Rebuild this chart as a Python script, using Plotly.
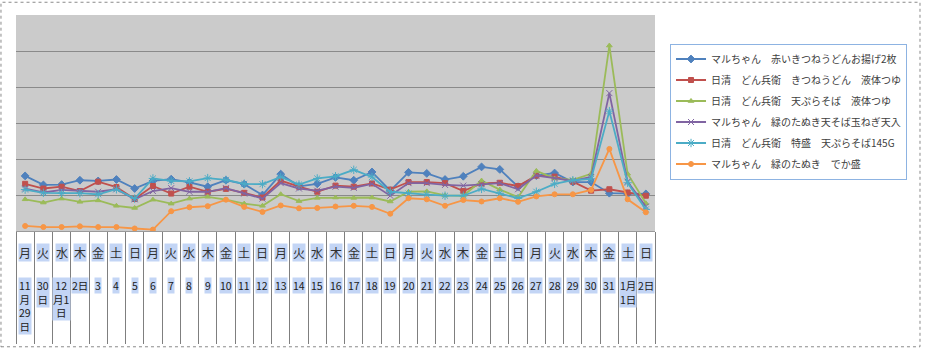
import plotly.graph_objects as go

categories = ["11/29", "11/30"] + [f"12/{d}" for d in range(1, 32)] + ["1/1", "1/2"]
weekdays = ["月", "火", "水", "木", "金", "土", "日"] * 5
date_labels = (["11<br>月<br>29<br>日", "30<br>日", "12<br>月1<br>日", "2日"]
               + [str(d) for d in range(3, 32)] + ["1月<br>1日", "2日"])

names = [
    "マルちゃん　赤いきつねうどんお揚げ2枚",
    "日清　どん兵衛　きつねうどん　液体つゆ",
    "日清　どん兵衛　天ぷらそば　液体つゆ",
    "マルちゃん　緑のたぬき天そば玉ねぎ天入",
    "日清　どん兵衛　特盛　天ぷらそば145G",
    "マルちゃん　緑のたぬき　でか盛",
]

s_akai = [1.53, 1.28, 1.29, 1.41, 1.39, 1.43, 1.18, 1.39, 1.44, 1.35, 1.23, 1.41, 1.30, 1.00,
          1.58, 1.24, 1.31, 1.49, 1.41, 1.64, 1.12, 1.63, 1.60, 1.43, 1.52, 1.78, 1.71, 1.23,
          1.54, 1.61, 1.36, 1.36, 1.05, 1.03, 1.03]
s_kitsune = [1.31, 1.18, 1.23, 1.11, 1.37, 1.22, 0.89, 1.25, 1.04, 1.23, 1.09, 1.17, 1.06, 0.93,
             1.40, 1.23, 1.09, 1.26, 1.23, 1.32, 1.15, 1.36, 1.36, 1.33, 1.11, 1.32, 1.34, 1.25,
             1.54, 1.51, 1.37, 1.12, 1.16, 1.07, 0.98]
s_tenpura = [0.88, 0.79, 0.90, 0.81, 0.85, 0.70, 0.64, 0.87, 0.76, 0.90, 0.95, 0.87, 0.76, 0.70,
             1.02, 0.83, 0.92, 0.93, 0.92, 0.93, 0.82, 1.09, 1.10, 0.99, 0.98, 1.40, 1.15, 0.94,
             1.67, 1.46, 1.42, 1.59, 5.15, 1.59, 0.77]
s_midori = [1.18, 1.07, 1.14, 1.11, 1.09, 1.16, 0.88, 1.11, 1.19, 1.09, 1.09, 1.19, 1.04, 0.90,
            1.33, 1.18, 1.12, 1.23, 1.20, 1.31, 0.98, 1.33, 1.33, 1.28, 1.26, 1.30, 1.33, 1.16,
            1.54, 1.47, 1.39, 1.50, 3.83, 1.37, 0.68]
s_tokumori = [1.15, 1.06, 1.05, 1.05, 1.02, 1.16, 0.90, 1.46, 1.39, 1.38, 1.47, 1.42, 1.31, 1.30,
              1.50, 1.29, 1.46, 1.52, 1.70, 1.50, 1.09, 1.04, 1.01, 0.98, 0.98, 1.17, 1.05, 0.91,
              1.09, 1.31, 1.41, 1.45, 3.33, 1.34, 0.60]
s_dekamori = [0.14, 0.11, 0.11, 0.13, 0.11, 0.11, 0.07, 0.04, 0.55, 0.66, 0.69, 0.87, 0.67, 0.53,
              0.71, 0.63, 0.64, 0.68, 0.70, 0.67, 0.48, 0.91, 0.88, 0.70, 0.86, 0.82, 0.91, 0.81,
              0.96, 1.02, 1.02, 1.14, 2.28, 0.88, 0.52]

series = [s_akai, s_kitsune, s_tenpura, s_midori, s_tokumori, s_dekamori]
colors = ["#4F81BD", "#C0504D", "#9BBB59", "#8064A2", "#4BACC6", "#F79646"]
symbols = ["diamond", "square", "triangle-up", "x-thin", "asterisk-open", "circle"]
msizes = [6, 5, 5, 6, 7, 5]

JP = "Noto Sans CJK JP"
fig = go.Figure()
for i, (nm, vals) in enumerate(zip(names, series)):
    fig.add_trace(go.Scatter(
        x=categories, y=vals, name=nm, mode="lines+markers",
        legendgroup=f"g{i}",
        line=dict(color=colors[i], width=1.8),
        marker=dict(symbol=symbols[i], size=msizes[i], color=colors[i],
                    line=dict(color=colors[i], width=1)),
    ))

annotations = []
for c, wd, dl in zip(categories, weekdays, date_labels):
    annotations.append(dict(x=c, y=0, xref="x", yref="paper", text=wd, showarrow=False,
                            yanchor="top", yshift=-12, bgcolor="#c3d5f5", borderpad=0,
                            font=dict(family=JP, size=12, color="#303030")))
    annotations.append(dict(x=c, y=0, xref="x", yref="paper", text=dl, showarrow=False,
                            yanchor="top", yshift=-46, bgcolor="#c3d5f5", borderpad=0,
                            font=dict(family=JP, size=10.5, color="#202020")))

fig.update_layout(
    width=925, height=355,
    margin=dict(l=16, r=270, t=15, b=120),
    paper_bgcolor="white", plot_bgcolor="#cbcbcb",
    font=dict(family=JP, size=10, color="#404040"),
    showlegend=True,
    legend=dict(x=1.0235, y=0.868, xanchor="left", yanchor="top",
                bordercolor="#8DB3E2", borderwidth=1, bgcolor="white",
                font=dict(family=JP, size=10, color="#404040"),
                tracegroupgap=2, itemwidth=30),
    xaxis=dict(type="category", categoryorder="array", categoryarray=categories,
               showticklabels=False, ticks="outside", tickson="boundaries",
               ticklen=112, tickcolor="#7f7f7f", tickwidth=1,
               showgrid=False, showline=True, linecolor="#9a9a9a", linewidth=1,
               zeroline=False, range=[-0.5, 34.5]),
    yaxis=dict(range=[0, 6], dtick=1, showticklabels=False, showgrid=True,
               gridcolor="#8a8a8a", gridwidth=1, zeroline=False, showline=False),
    annotations=annotations,
    shapes=[dict(type="rect", xref="paper", yref="paper",
                 x0=-0.0235, x1=1.4147, y0=-0.536, y1=1.059,
                 line=dict(color="#8a8a8a", width=1, dash="dot"), layer="below")],
)

fig.write_html("out.html")
